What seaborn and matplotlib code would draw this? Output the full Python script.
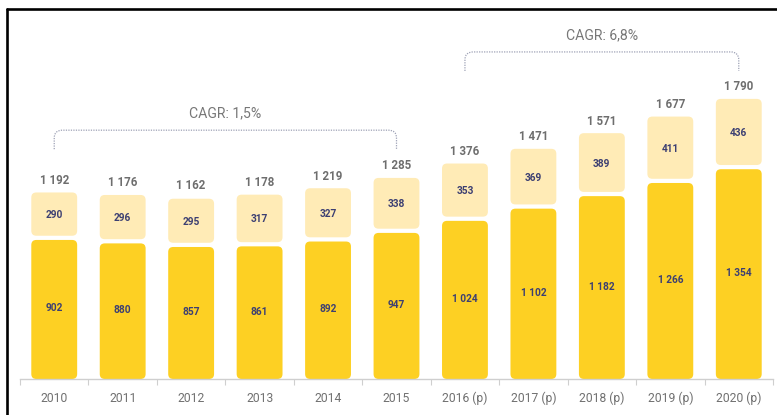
import matplotlib
matplotlib.use("Agg")
import matplotlib.pyplot as plt
import seaborn as sns
import pandas as pd
from matplotlib.patches import FancyBboxPatch, PathPatch
from matplotlib.path import Path
from matplotlib.lines import Line2D

# data
years = ["2010", "2011", "2012", "2013", "2014", "2015",
         "2016 (p)", "2017 (p)", "2018 (p)", "2019 (p)", "2020 (p)"]
base = [902, 880, 857, 861, 892, 947, 1024, 1102, 1182, 1266, 1354]
extra = [290, 296, 295, 317, 327, 338, 353, 369, 389, 411, 436]
totals = [1192, 1176, 1162, 1178, 1219, 1285, 1376, 1471, 1571, 1677, 1790]
cagr_labels = ["CAGR: 1,5%", "CAGR: 6,8%"]
cagr_spans = [(0, 5), (6, 10)]
cagr_heights = [1590, 2090]

DARK = "#FDD023"
LIGHT = "#FFEBB6"
NAVY = "#3C3F72"
GREY = "#6E6E6E"

sns.set_theme(style="white")
plt.rcParams["font.family"] = ["Roboto", "DejaVu Sans"]

df = pd.DataFrame({"year": years, "base": base, "total": totals})

fig = plt.figure(figsize=(7.77, 4.15), dpi=100)
ax = fig.add_axes([20 / 777, 36 / 415, 753 / 777, 369 / 415])

sns.barplot(data=df, x="year", y="total", color=LIGHT, width=0.67,
            saturation=1, ax=ax)
sns.barplot(data=df, x="year", y="base", color=DARK, width=0.67,
            saturation=1, ax=ax)
ax.set_xlim(-0.5, len(years) - 0.5)
ax.set_ylim(0, 2358)

# pixel <-> data scales
fig.canvas.draw()
p0 = ax.transData.transform((0, 0))
p1 = ax.transData.transform((1, 1))
px_x = p1[0] - p0[0]
px_y = p1[1] - p0[1]
gap = 2.1 / px_y
rad = 5 / px_x
aspect = px_x / px_y

fmt = lambda v: f"{v:,}".replace(",", " ")

n = len(years)
patches = list(ax.patches)
light_patches, dark_patches = patches[:n], patches[n:]
for i, (lp, dp) in enumerate(zip(light_patches, dark_patches)):
    x, w = dp.get_x(), dp.get_width()
    lp.remove()
    dp.remove()
    ax.add_patch(FancyBboxPatch((x, 0), w, base[i] - gap,
                                boxstyle=f"round,pad=0,rounding_size={rad}",
                                mutation_aspect=aspect, fc=DARK, ec="none"))
    ax.add_patch(FancyBboxPatch((x, base[i] + gap), w, extra[i] - gap,
                                boxstyle=f"round,pad=0,rounding_size={rad}",
                                mutation_aspect=aspect, fc=LIGHT, ec="none"))
    ax.text(i, base[i] / 2, fmt(base[i]), ha="center", va="center",
            fontsize=7.3, fontweight="bold", color=NAVY)
    ax.text(i, base[i] + extra[i] / 2, fmt(extra[i]), ha="center",
            va="center", fontsize=7.3, fontweight="bold", color=NAVY)
    ax.text(i, totals[i] + 12 / px_y, fmt(totals[i]), ha="center",
            va="center", fontsize=8.3, fontweight="bold", color=GREY)

# CAGR brackets
for label, (a, b), top in zip(cagr_labels, cagr_spans, cagr_heights):
    bottom = top - 19 / px_y
    rx, ry = 8 / px_x, 8 / px_y
    verts = [(a, bottom), (a, top - ry), (a, top), (a + rx, top),
             (b - rx, top), (b, top), (b, top - ry), (b, bottom)]
    codes = [Path.MOVETO, Path.LINETO, Path.CURVE3, Path.CURVE3,
             Path.LINETO, Path.CURVE3, Path.CURVE3, Path.LINETO]
    ax.add_patch(PathPatch(Path(verts, codes), fc="none", ec="#9DA1B5",
                           lw=0.9, ls=(0, (1, 1))))
    ax.text((a + b) / 2, top + 17 / px_y, label, ha="center", va="center",
            fontsize=10.1, color="#777777")

# axes styling
for s in ["top", "right", "left"]:
    ax.spines[s].set_visible(False)
ax.spines["bottom"].set_color("#CFCFCF")
ax.spines["bottom"].set_linewidth(1)
ax.set_yticks([])
ax.set_xlabel("")
ax.set_ylabel("")
ax.set_xticks(range(n))
ax.set_xticklabels(years)
ax.set_xticks([i - 0.5 for i in range(n + 1)], minor=True)
ax.tick_params(axis="x", which="major", length=0, pad=9, labelsize=8.7,
               labelcolor="#707070")
ax.tick_params(axis="x", which="minor", length=4, width=0.8, color="#CFCFCF",
               bottom=True)

# frame of the original screenshot
fig.add_artist(Line2D([7 / 777, 1], [1 - 9 / 415, 1 - 9 / 415],
                      transform=fig.transFigure, color="black", lw=1.9))
fig.add_artist(Line2D([7 / 777, 7 / 777], [0, 1 - 9 / 415],
                      transform=fig.transFigure, color="black", lw=1.9))

fig.savefig("out.png", dpi=100)
